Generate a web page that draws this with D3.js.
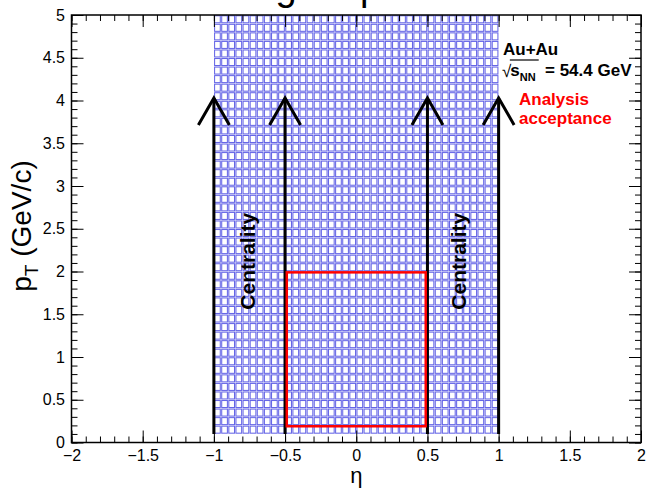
<!DOCTYPE html>
<html><head><meta charset="utf-8">
<script src="https://cdn.jsdelivr.net/npm/d3@7"></script>
<style>
html,body{margin:0;padding:0;background:#fff;}
svg text{font-family:"Liberation Sans",Helvetica,Arial,sans-serif;}
</style></head>
<body><svg id="c" width="647" height="488"></svg>
<script>
// ---- data ----
const xDomain = [-2, 2];
const yDomain = [0, 5];
const xMajorTicks = [-2, -1.5, -1, -0.5, 0, 0.5, 1, 1.5, 2];
const xTickLabels = ["\u22122", "\u22121.5", "\u22121", "\u22120.5", "0", "0.5", "1", "1.5", "2"];
const yMajorTicks = [0, 0.5, 1, 1.5, 2, 2.5, 3, 3.5, 4, 4.5, 5];
const yTickLabels = ["0", "0.5", "1", "1.5", "2", "2.5", "3", "3.5", "4", "4.5", "5"];
const etaEdges = [-1, 1];      // binned region in eta
const etaBinCount = 40;
const ptEdges = [0.1, 5];      // binned region in pT
const ptBinCount = 49;
const arrowEta = [-1, -0.5, 0.5, 1];
const arrowPt = [0.1, 4.03];
const acceptEta = [-0.488, 0.488];
const acceptPt = [0.19, 1.99];
const centralityEta = [-0.75, 0.75];
const centralityPt = 2.12;

const svg = d3.select("#c");
const x = d3.scaleLinear().domain(xDomain).range([71.5, 641]);
const y = d3.scaleLinear().domain(yDomain).range([442.5, 15]);

// grid of boxes
const dEta = (etaEdges[1] - etaEdges[0]) / etaBinCount;
const dPt = (ptEdges[1] - ptEdges[0]) / ptBinCount;
const cells = [];
for (let i = 0; i < etaBinCount; i++) for (let j = 0; j < ptBinCount; j++) cells.push([i, j]);
const fx = 0.8, fy = 0.82;
svg.append("g").selectAll("rect").data(cells).join("rect")
  .attr("x", d => x(etaEdges[0] + (d[0] + 0.5 - fx / 2) * dEta))
  .attr("width", x(dEta * fx) - x(0))
  .attr("y", d => y(ptEdges[0] + (d[1] + 0.5 + fy / 2) * dPt))
  .attr("height", y(0) - y(dPt * fy))
  .attr("fill", "none").attr("stroke", "#4040e0").attr("stroke-opacity", 0.8).attr("stroke-width", 1.05);

// arrows
const ag = svg.append("g").attr("stroke", "#000").attr("fill", "none").attr("stroke-width", 3);
arrowEta.forEach(a => {
  ag.append("line").attr("x1", x(a)).attr("x2", x(a)).attr("y1", y(arrowPt[0])).attr("y2", y(arrowPt[1]));
  ag.append("path").attr("d", `M${x(a) - 15.5},${y(arrowPt[1]) + 27}L${x(a)},${y(arrowPt[1])}L${x(a) + 15.5},${y(arrowPt[1]) + 27}`);
});

// red acceptance box
svg.append("rect")
  .attr("x", x(acceptEta[0])).attr("y", y(acceptPt[1]))
  .attr("width", x(acceptEta[1]) - x(acceptEta[0]))
  .attr("height", y(acceptPt[0]) - y(acceptPt[1]))
  .attr("fill", "none").attr("stroke", "#ff0000").attr("stroke-width", 2.5);

// Centrality labels
[[centralityEta[0], x(-0.5) - 30], [centralityEta[1], x(0.5) + 39]].forEach(c => {
  svg.append("text").attr("transform", `translate(${c[1]},${y(centralityPt)}) rotate(-90)`)
    .attr("text-anchor", "middle").attr("font-size", 21).attr("font-weight", "bold").text("Centrality");
});

// axes
const tickFont = 16;
const gx = svg.append("g").attr("transform", `translate(0,${y(0)})`)
  .call(d3.axisBottom(x).tickValues(xMajorTicks).tickFormat((d, i) => xTickLabels[i]).tickSizeInner(-12).tickSizeOuter(0).tickPadding(7));
const gxm = svg.append("g").attr("transform", `translate(0,${y(0)})`)
  .call(d3.axisBottom(x).ticks(40).tickFormat("").tickSizeInner(-6).tickSizeOuter(0));
const gxt = svg.append("g").attr("transform", `translate(0,${y(5)})`)
  .call(d3.axisTop(x).tickValues(xMajorTicks).tickFormat("").tickSizeInner(-12).tickSizeOuter(0));
const gxtm = svg.append("g").attr("transform", `translate(0,${y(5)})`)
  .call(d3.axisTop(x).ticks(40).tickFormat("").tickSizeInner(-6).tickSizeOuter(0));
const gy = svg.append("g").attr("transform", `translate(${x(-2)},0)`)
  .call(d3.axisLeft(y).tickValues(yMajorTicks).tickFormat((d, i) => yTickLabels[i]).tickSizeInner(-12).tickSizeOuter(0).tickPadding(6.5));
const gym = svg.append("g").attr("transform", `translate(${x(-2)},0)`)
  .call(d3.axisLeft(y).ticks(50).tickFormat("").tickSizeInner(-6).tickSizeOuter(0));
const gyr = svg.append("g").attr("transform", `translate(${x(2)},0)`)
  .call(d3.axisRight(y).tickValues(yMajorTicks).tickFormat("").tickSizeInner(-12).tickSizeOuter(0));
const gyrm = svg.append("g").attr("transform", `translate(${x(2)},0)`)
  .call(d3.axisRight(y).ticks(50).tickFormat("").tickSizeInner(-6).tickSizeOuter(0));
[gx, gxm, gxt, gxtm, gy, gym, gyr, gyrm].forEach(g => {
  g.select(".domain").remove();
  g.selectAll("line").attr("stroke", "#000").attr("stroke-width", 1);
  g.selectAll("text").attr("font-size", tickFont).attr("fill", "#000")
    .attr("font-family", "'Liberation Sans',Helvetica,Arial,sans-serif");
});
// frame
svg.append("rect").attr("x", x(-2)).attr("y", y(5)).attr("width", x(2) - x(-2)).attr("height", y(0) - y(5))
  .attr("fill", "none").attr("stroke", "#000").attr("stroke-width", 1.5);

// title (only descenders visible at the top edge, as in the reference)
const title = svg.append("text").attr("y", -0.5).attr("font-size", 38).text("Binning map");
const tn = title.node();
const gStart = tn.getSubStringLength(0, 6), gW = tn.getSubStringLength(6, 1);
title.attr("x", 286 - gStart - gW / 2);

// axis titles
svg.append("text").attr("x", x(0)).attr("y", 483).attr("text-anchor", "middle").attr("font-size", 22).text("\u03b7");
const yl = svg.append("text").attr("transform", "translate(31,226) rotate(-90)").attr("text-anchor", "middle").attr("font-size", 28);
yl.append("tspan").text("p");
yl.append("tspan").attr("font-size", 19).attr("dy", 7).text("T");
yl.append("tspan").attr("dy", -7).text(" (GeV/c)");

// legend text
svg.append("text").attr("x", 503).attr("y", 55).attr("font-size", 17).attr("font-weight", "bold").text("Au+Au");
const rad = svg.append("text").attr("x", 502).attr("y", 77).attr("font-size", 17).text("\u221a");
const rw = rad.node().getComputedTextLength();
const st = svg.append("text").attr("x", 502 + rw - 1).attr("y", 76).attr("font-size", 17).attr("font-weight", "bold").text("s");
const sw = st.node().getComputedTextLength();
const nn = svg.append("text").attr("x", 502 + rw - 1 + sw).attr("y", 81).attr("font-size", 11).attr("font-weight", "bold").text("NN");
const nw = nn.node().getComputedTextLength();
svg.append("line").attr("x1", 502 + rw - 1.5).attr("x2", 502 + rw - 1 + sw + nw + 3).attr("y1", 60).attr("y2", 60)
  .attr("stroke", "#000").attr("stroke-width", 1.2);
svg.append("text").attr("x", 545).attr("y", 76).attr("font-size", 17).attr("font-weight", "bold").text("= 54.4 GeV");
svg.append("text").attr("x", 519).attr("y", 105).attr("font-size", 17).attr("font-weight", "bold").attr("fill", "#ff0000").text("Analysis");
svg.append("text").attr("x", 519).attr("y", 124).attr("font-size", 17).attr("font-weight", "bold").attr("fill", "#ff0000").text("acceptance");
</script></body></html>
